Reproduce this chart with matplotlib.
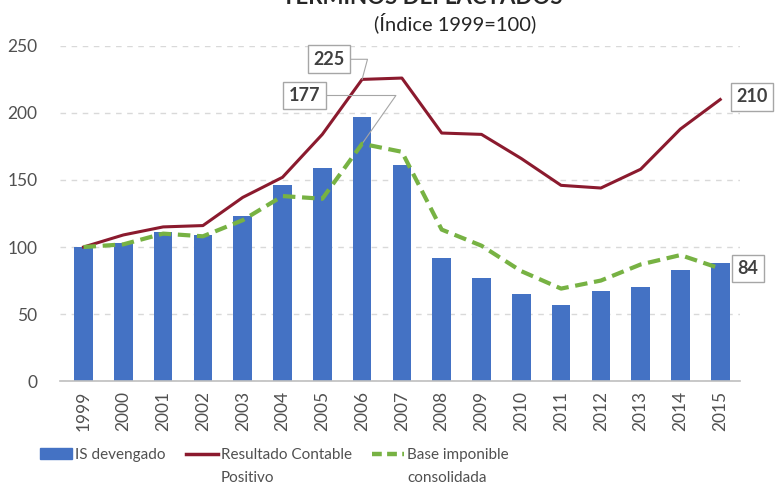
import matplotlib
matplotlib.use("Agg")
import matplotlib.pyplot as plt
from matplotlib.lines import Line2D
from matplotlib.patches import Patch

years = [str(y) for y in range(1999, 2016)]
is_devengado = [100, 103, 111, 109, 123, 146, 159, 197, 161, 92, 77, 65, 57, 67, 70, 83, 88]
resultado_contable = [100, 109, 115, 116, 137, 152, 184, 225, 226, 185, 184, 166, 146, 144, 158, 188, 210]
base_imponible = [100, 102, 110, 108, 120, 138, 136, 177, 171, 113, 101, 82, 69, 75, 87, 94, 84]
yticks = [0, 50, 100, 150, 200, 250]

plt.rcParams['font.family'] = ['Lato', 'DejaVu Sans']
txt = '#505050'
c_bar = '#4472C4'
c_red = '#8B1A2E'
c_green = '#77B243'

W, H = 775, 488
fig = plt.figure(figsize=(W / 100, H / 100), dpi=100)
ax = fig.add_axes([0.077, 0.219, 0.878, 0.687])

x = list(range(len(years)))
ax.bar(x, is_devengado, width=0.47, color=c_bar, zorder=2)
ax.plot(x, resultado_contable, color=c_red, lw=2.2, zorder=3)
ax.plot(x, base_imponible, color=c_green, lw=3, ls=(0, (3, 1.6)), zorder=4)

ax.set_xlim(-0.6, 16.5)
ax.set_ylim(0, 250)
ax.set_yticks(yticks)
ax.set_xticks(x)
ax.set_xticklabels(years, rotation=90, fontsize=12.5, color=txt)
ax.tick_params(axis='y', labelsize=12.5, labelcolor=txt, length=0, pad=16)
ax.tick_params(axis='x', length=0, pad=7)
ax.yaxis.grid(True, color='#D9D9D9', ls=(0, (4, 4)), lw=1, zorder=0)
for s in ['top', 'right', 'left']:
    ax.spines[s].set_visible(False)
ax.spines['bottom'].set_color('#BFBFBF')
ax.spines['bottom'].set_linewidth(1.2)
ax.spines['bottom'].set_zorder(5)

bbox = dict(boxstyle='square,pad=0.3', fc='white', ec='#A6A6A6', lw=1)
ax.annotate(str(resultado_contable[7]), xy=(7, resultado_contable[7]), xytext=(6.17, 240),
            fontsize=13, fontweight='bold', color='#404040', ha='center', va='center', bbox=bbox,
            arrowprops=dict(arrowstyle='-', color='#A6A6A6', lw=0.8, shrinkA=0, shrinkB=0,
                            connectionstyle='angle,angleA=0,angleB=75,rad=0'))
ax.annotate(str(base_imponible[7]), xy=(7, base_imponible[7]), xytext=(5.55, 213),
            fontsize=13, fontweight='bold', color='#404040', ha='center', va='center', bbox=bbox,
            arrowprops=dict(arrowstyle='-', color='#A6A6A6', lw=0.8, shrinkA=0, shrinkB=0,
                            connectionstyle='angle,angleA=0,angleB=55,rad=0'))
ax.annotate(str(resultado_contable[16]), xy=(16, resultado_contable[16]), xytext=(16.8, 212),
            fontsize=13, fontweight='bold', color='#404040', ha='center', va='center', bbox=bbox,
            annotation_clip=False)
ax.annotate(str(base_imponible[16]), xy=(16, base_imponible[16]), xytext=(16.7, 84),
            fontsize=13, fontweight='bold', color='#404040', ha='center', va='center', bbox=bbox,
            annotation_clip=False)

fig.text(0.545, 0.992, 'TÉRMINOS DEFLACTADOS', fontsize=16, fontweight='bold', color='#262626',
         ha='center', va='baseline')
fig.text(0.587, 0.953, '(Índice 1999=100)', fontsize=14.5, color='#262626', ha='center', va='center')

# legend: three separate entries placed like the reference
entries = [
    (Patch(color=c_bar), 'IS devengado', None, 40),
    (Line2D([], [], color=c_red, lw=2.5), 'Resultado Contable', 'Positivo', 186),
    (Line2D([], [], color=c_green, lw=3.2, ls=(0, (2.2, 1.2))), 'Base imponible', 'consolidada', 372),
]
fs_leg = 11
for h, lab, second, px in entries:
    lg = fig.legend([h], [lab], loc='center left', bbox_to_anchor=(px / W, 1 - 455 / H),
                    frameon=False, prop={'size': fs_leg},
                    handlelength=32 / (fs_leg * 100 / 72),
                    handletextpad=0.2, borderpad=0, borderaxespad=0, labelcolor=txt)
    if second:
        fig.canvas.draw()
        bb = lg.get_texts()[0].get_window_extent()
        fig.text(bb.x0 / W, 1 - 478 / H, second, fontsize=fs_leg,
                 color=txt, ha='left', va='center')

fig.savefig('out.png', dpi=100)
